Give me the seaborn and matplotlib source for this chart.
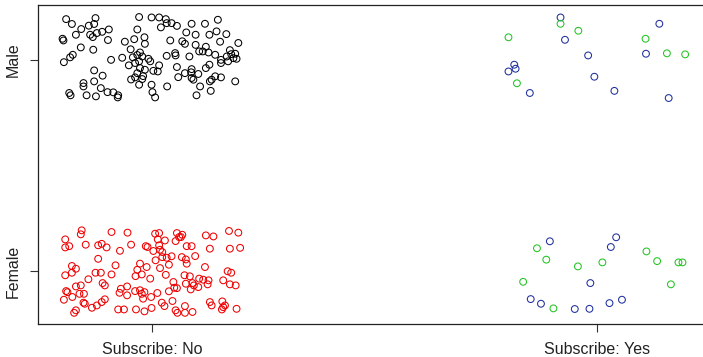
import numpy as np
import pandas as pd
import matplotlib
matplotlib.use("Agg")
import matplotlib.pyplot as plt
import seaborn as sns

# ---- data (jittered positions) ----
x_categories = ["Subscribe: No", "Subscribe: Yes"]
y_categories = ["Female", "Male"]

male_no_x = [0.807, 0.820, 0.873, 0.858, 0.870, 0.841, 0.888, 0.903, 0.876, 0.861, 0.829, 0.799, 0.801,
             0.867, 0.901, 0.840, 0.868, 0.822, 0.816, 0.802, 0.908, 0.870, 0.889, 0.870, 0.846, 0.846,
             0.814, 0.817, 0.853, 0.874, 0.885, 0.900, 0.913, 0.924, 0.923, 0.971, 0.967, 0.939, 0.960,
             0.983, 0.984, 0.952, 0.973, 0.933, 0.957, 0.967, 0.978, 0.971, 0.948, 0.973, 0.962, 0.984,
             0.967, 0.980, 0.953, 0.962, 0.978, 0.971,
             0.999, 1.016, 1.031, 1.020, 1.033, 1.044, 1.056, 1.089, 1.119, 1.148, 1.077, 1.098, 1.129,
             1.145, 1.167, 1.041, 1.068, 1.074, 1.098, 1.153, 1.194, 1.121, 1.106, 1.114, 1.127, 1.142,
             1.175, 1.033, 1.052, 1.053, 1.084, 1.155, 1.168, 1.178, 1.183, 1.187, 1.171, 1.155, 1.190,
             1.129, 1.121, 1.056, 1.016, 0.992, 0.996, 1.003, 1.013, 1.074, 1.089, 1.088, 1.104, 1.059,
             1.089, 1.093, 1.142, 1.155, 1.130, 1.134, 1.187, 0.999, 1.108, 1.034, 1.001, 1.007, 1.132,
             1.100]
male_no_y = [2.194, 2.171, 2.199, 2.163, 2.171, 2.147, 2.134, 2.145, 2.128, 2.120, 2.120, 2.101, 2.093,
             2.109, 2.095, 2.060, 2.049, 2.025, 2.013, 1.990, 2.001, 1.951, 1.926, 1.899, 1.891, 1.875,
             1.844, 1.833, 1.833, 1.828, 1.867, 1.848, 1.847, 1.833, 1.823, 2.204, 2.145, 2.087, 2.099,
             2.108, 2.077, 2.051, 2.036, 2.011, 2.013, 2.024, 2.017, 1.994, 1.975, 1.962, 1.986, 1.954,
             1.938, 1.924, 1.908, 1.918, 1.910, 1.883,
             2.202, 2.202, 2.194, 2.155, 2.175, 2.175, 2.162, 2.172, 2.172, 2.191, 2.131, 2.120, 2.120,
             2.136, 2.123, 2.093, 2.089, 2.077, 2.072, 2.087, 2.081, 2.063, 2.041, 2.041, 2.036, 2.025,
             2.047, 2.020, 2.033, 2.022, 2.017, 2.001, 2.017, 2.028, 2.009, 2.030, 1.994, 1.986, 2.006,
             1.978, 1.962, 1.967, 1.975, 2.006, 1.994, 1.949, 1.946, 1.938, 1.957, 1.942, 1.934, 1.919,
             1.915, 1.907, 1.923, 1.918, 1.899, 1.907, 1.899, 1.883, 1.875, 1.875, 1.848, 1.823, 1.854,
             1.833]

female_no_x = [0.842, 0.840, 0.805, 0.805, 0.814, 0.851, 0.879, 0.887, 0.898, 0.909, 0.945, 0.953, 0.928,
               0.986, 0.990, 0.879, 0.820, 0.829, 0.805, 0.820, 0.873, 0.885, 0.918, 0.909, 0.973, 0.967,
               0.963, 0.977, 0.988, 0.857, 0.889, 0.894, 0.829, 0.840, 0.807, 0.810, 0.837, 0.847, 0.821,
               0.802, 0.930, 0.927, 0.944, 0.962, 0.973, 0.977, 0.983, 0.944, 0.980, 0.846, 0.849, 0.865,
               0.876, 0.887, 0.894, 0.829, 0.825, 0.924, 0.937, 0.964, 0.983,
               1.007, 1.016, 1.013, 1.029, 1.056, 1.061, 1.068, 1.065, 1.053, 1.121, 1.138, 1.173, 1.194,
               1.016, 1.003, 1.018, 1.023, 1.078, 1.089, 1.130, 1.175, 1.198, 1.023, 1.033, 1.044, 1.008,
               1.067, 1.076, 1.078, 1.097, 1.038, 1.018, 1.031, 0.996, 1.119, 1.073, 1.085, 1.170, 1.178,
               1.106, 1.115, 1.127, 1.125, 1.076, 1.091, 1.094, 1.160, 1.175, 1.188, 1.048, 1.050, 1.056,
               1.087, 1.104, 1.038, 1.012, 0.998, 1.046, 1.022, 1.028, 0.999, 1.074, 1.130, 1.134, 1.158,
               1.164, 1.157, 1.160, 1.190, 1.053, 1.057, 1.074, 1.091]
female_no_y = [1.193, 1.174, 1.150, 1.112, 1.118, 1.125, 1.122, 1.129, 1.112, 1.185, 1.182, 1.125, 1.096,
               1.118, 1.114, 1.058, 1.024, 1.011, 0.980, 0.992, 0.992, 0.992, 1.027, 0.984, 1.035, 1.006,
               0.976, 0.984, 1.019, 0.961, 0.943, 0.932, 0.927, 0.932, 0.905, 0.900, 0.892, 0.892, 0.877,
               0.864, 0.916, 0.897, 0.927, 0.905, 0.909, 0.892, 0.900, 0.885, 0.869, 0.850, 0.845, 0.826,
               0.837, 0.853, 0.866, 0.814, 0.802, 0.818, 0.818, 0.818, 0.809,
               1.177, 1.180, 1.150, 1.145, 1.180, 1.161, 1.172, 1.161, 1.142, 1.169, 1.164, 1.190, 1.182,
               1.122, 1.095, 1.101, 1.090, 1.118, 1.118, 1.106, 1.106, 1.110, 1.066, 1.063, 1.070, 1.051,
               1.066, 1.055, 1.035, 1.071, 1.030, 1.014, 0.982, 0.964, 1.019, 0.980, 0.975, 0.999, 0.992,
               0.964, 0.959, 0.956, 0.937, 0.940, 0.943, 0.932, 0.956, 0.937, 0.932, 0.948, 0.921, 0.919,
               0.913, 0.924, 0.904, 0.896, 0.877, 0.858, 0.850, 0.834, 0.825, 0.834, 0.853, 0.837, 0.856,
               0.837, 0.818, 0.829, 0.821, 0.814, 0.802, 0.802, 0.806]

male_yes_blue_x = [1.918, 1.928, 1.980, 1.994, 2.039, 1.814, 1.801, 1.817, 1.849, 2.140, 2.110, 2.161]
male_yes_blue_y = [2.202, 2.096, 2.022, 1.921, 1.854, 1.978, 1.946, 1.959, 1.844, 2.172, 2.030, 1.820]
male_yes_green_x = [1.918, 1.958, 1.801, 1.820, 2.109, 2.157, 2.198]
male_yes_green_y = [2.172, 2.139, 2.108, 1.890, 2.101, 2.032, 2.027]

female_yes_blue_x = [1.894, 2.043, 2.031, 1.985, 1.851, 1.874, 1.950, 1.983, 2.028, 2.056]
female_yes_blue_y = [1.141, 1.160, 1.114, 0.943, 0.867, 0.845, 0.820, 0.821, 0.848, 0.864]
female_yes_green_x = [1.865, 1.886, 1.957, 2.012, 1.834, 1.902, 2.111, 2.135, 2.183, 2.192, 2.166]
female_yes_green_y = [1.108, 1.054, 1.022, 1.041, 0.949, 0.823, 1.093, 1.047, 1.041, 1.041, 0.937]

groups = {
    "male_no": (male_no_x, male_no_y, "#000000"),
    "female_no": (female_no_x, female_no_y, "#EE0000"),
    "yes_blue": (male_yes_blue_x + female_yes_blue_x, male_yes_blue_y + female_yes_blue_y, "#1F2E9E"),
    "yes_green": (male_yes_green_x + female_yes_green_x, male_yes_green_y + female_yes_green_y, "#22C422"),
}

frames = []
for name, (xs, ys, col) in groups.items():
    frames.append(pd.DataFrame({"x": xs, "y": ys, "group": name}))
df = pd.concat(frames, ignore_index=True)

sns.set_style("white")
plt.rcParams["font.family"] = ["Liberation Sans", "DejaVu Sans"]

fig = plt.figure(figsize=(7.03, 3.57), dpi=100)
ax = fig.add_axes([37.5 / 703, 33 / 357, (711.4 - 37.5) / 703, (324 - 5) / 357])

for name, (xs, ys, col) in groups.items():
    sub = df[df["group"] == name]
    n_before = len(ax.collections)
    sns.scatterplot(data=sub, x="x", y="y", ax=ax, color=col, s=24, marker="o",
                    legend=False, zorder=3)
    for coll in ax.collections[n_before:]:
        coll.set_facecolor("none")
        coll.set_edgecolor(col)
        coll.set_linewidth(0.75)

ax.set_xlim(0.7427, 2.257)
ax.set_ylim(0.749, 2.261)
ax.set_xticks([1, 2])
ax.set_xticklabels(x_categories)
ax.set_yticks([1, 2])
ax.set_yticklabels(y_categories, rotation=90, va="center")
ax.set_xlabel("")
ax.set_ylabel("")
ax.tick_params(axis="both", direction="out", length=6, width=0.8, color="#333333",
               labelsize=11.5, labelcolor="#222222", bottom=True, left=True)
ax.tick_params(axis="x", pad=7)
ax.tick_params(axis="y", pad=6)
for sp in ax.spines.values():
    sp.set_visible(True)
    sp.set_color("#222222")
    sp.set_linewidth(0.9)

fig.savefig("out.png", dpi=100)
